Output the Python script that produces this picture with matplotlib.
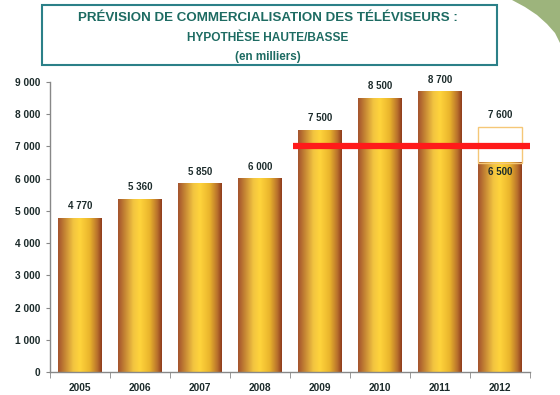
import numpy as np
import matplotlib.pyplot as plt
from matplotlib.colors import LinearSegmentedColormap
from matplotlib.patches import Rectangle, Polygon

plt.rcParams['font.family'] = ['Liberation Sans', 'DejaVu Sans']

years = ['2005', '2006', '2007', '2008', '2009', '2010', '2011', '2012']
values = [4770, 5360, 5850, 6000, 7500, 8500, 8700, 6500]
labels = ['4 770', '5 360', '5 850', '6 000', '7 500', '8 500', '8 700', '6 500']
high_2012 = 7600
high_label = '7 600'
threshold = 7000
yticks = [0, 1000, 2000, 3000, 4000, 5000, 6000, 7000, 8000, 9000]

title_color = '#1d6b62'
text_color = '#1c2b2b'

gold = LinearSegmentedColormap.from_list('gold', [
    (0.0, '#a4522e'), (0.12, '#bd7a32'), (0.35, '#f2c440'),
    (0.5, '#ffd43c'), (0.72, '#eab52c'), (0.9, '#b8702c'), (1.0, '#8e3a1c')])

W, H = 560, 395
fig = plt.figure(figsize=(5.6, 3.95), dpi=100)
ax = fig.add_axes([50/W, (H-372)/H, 480/W, 290/H])

# green swoosh in the top right corner (pixel outline)
swoosh = [(512, 0), (525, 7), (537, 15), (547, 24), (555, 33), (560, 43), (560, 0)]
fig.patches.append(Polygon([(px/W, 1 - py/H) for px, py in swoosh], closed=True,
                           transform=fig.transFigure, facecolor='#9db47c',
                           edgecolor='none', zorder=0))

x = np.arange(len(years))
width = 0.73
grad = np.linspace(0, 1, 256).reshape(1, -1)

for xi, v in zip(x, values):
    ax.imshow(grad, cmap=gold, aspect='auto', interpolation='bicubic',
              extent=[xi - width/2, xi + width/2, 0, v], zorder=2)

for xi, v, lab in zip(x[:-1], values[:-1], labels[:-1]):
    ax.annotate(lab, (xi, v), xytext=(0, 5), textcoords='offset points',
                ha='center', va='bottom', fontsize=7, fontweight='bold', color=text_color)

# 2012 high / low hypothesis
last = x[-1]
ax.add_patch(Rectangle((last - width/2, values[-1]), width, high_2012 - values[-1],
                       facecolor='none', edgecolor='#f5c777', lw=1, zorder=3))
ax.annotate(high_label, (last, high_2012), xytext=(0, 5), textcoords='offset points',
            ha='center', va='bottom', fontsize=7, fontweight='bold', color=text_color)
ax.annotate(labels[-1], (last, values[-1]), xytext=(0, -3), textcoords='offset points',
            ha='center', va='top', fontsize=7, fontweight='bold', color=text_color, zorder=4)

# red line at 7000
ax.plot([3.55, 7.5], [threshold, threshold], color='#ff1a1a', lw=4.5,
        solid_capstyle='butt', zorder=5)

ax.set_xlim(-0.5, len(years) - 0.5)
ax.set_ylim(0, 9000)
ax.set_yticks(yticks)
ax.set_yticklabels([f'{t:,}'.replace(',', ' ') for t in yticks])
ax.set_xticks(x)
ax.set_xticklabels(years)
ax.set_xticks(np.arange(-0.5, len(years)), minor=True)
ax.tick_params(axis='x', which='major', length=0, pad=8)
ax.tick_params(axis='x', which='minor', length=4, color='#888888')
ax.tick_params(axis='y', length=3, color='#888888', pad=4)
for lab in ax.get_xticklabels() + ax.get_yticklabels():
    lab.set_fontweight('bold')
    lab.set_fontsize(7.3)
    lab.set_color(text_color)
for s in ['top', 'right']:
    ax.spines[s].set_visible(False)
for s in ['left', 'bottom']:
    ax.spines[s].set_color('#888888')
    ax.spines[s].set_linewidth(1)

# title box
fig.patches.append(Rectangle((42/W, 1 - 65/H), 455/W, 60/H, transform=fig.transFigure,
                             facecolor='white', edgecolor='#2b8088', lw=1.5, zorder=1))
cx = 268/W
fig.text(cx, 1 - 18/H, 'PRÉVISION DE COMMERCIALISATION DES TÉLÉVISEURS :',
         ha='center', va='center', fontsize=9.6, fontweight='bold', color=title_color)
fig.text(cx, 1 - 38/H, 'HYPOTHÈSE HAUTE/BASSE',
         ha='center', va='center', fontsize=8.6, fontweight='bold', color=title_color)
fig.text(cx, 1 - 57/H, '(en milliers)',
         ha='center', va='center', fontsize=8.4, fontweight='bold', color=title_color)

fig.savefig('out.png', dpi=100)
